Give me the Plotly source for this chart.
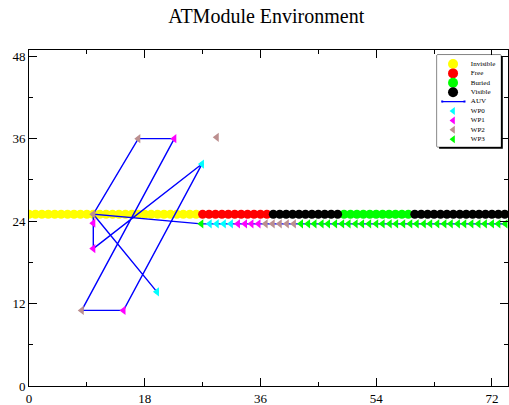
import plotly.graph_objects as go

# Environment cells (circles) at y = 25
invisible_x = [0, 1, 2, 3, 4, 5, 6, 7, 8, 9, 10, 11, 12, 13, 14, 15, 16, 17, 18, 19, 20, 21, 22, 23, 24, 25, 26]
free_x = [27, 28, 29, 30, 31, 32, 33, 34, 35, 36, 37]
buried_x = [49, 50, 51, 52, 53, 54, 55, 56, 57, 58, 59]
visible_x = [38, 39, 40, 41, 42, 43, 44, 45, 46, 47, 48,
             60, 61, 62, 63, 64, 65, 66, 67, 68, 69, 70, 71, 72, 73, 74]
cell_y = 25

# AUV trajectory
auv_x = [74, 26.8, 10, 17, 22.6, 8.2, 14.7, 26.9, 10, 10, 19.9]
auv_y = [23.6, 23.6, 25, 36, 36, 11, 11, 32.3, 20, 25, 13.7]

# Waypoints
wp0_x = [26.9, 19.9, 28.1, 29.2, 30.3, 31.4]
wp0_y = [32.3, 13.7, 23.6, 23.6, 23.6, 23.6]
wp1_x = [10, 10, 22.6, 14.7, 32.5, 33.6, 34.6, 35.7]
wp1_y = [23.7, 20, 36, 11, 23.6, 23.6, 23.6, 23.6]
wp2_x = [10, 17, 8.2, 29.2, 36.8, 37.9, 39.0, 40.1, 41.2]
wp2_y = [25, 36, 11, 36.2, 23.6, 23.6, 23.6, 23.6, 23.6]
wp3_x = [26.8, 42.3, 43.4, 44.4, 45.5, 46.5, 47.6, 48.7, 49.7, 50.8, 51.8, 52.9, 54.0,
         55.0, 56.1, 57.1, 58.2, 59.3, 60.3, 61.4, 62.4, 63.5, 64.6, 65.6, 66.7, 67.7,
         68.8, 69.9, 70.9, 72.0, 73.0, 74.1]
wp3_y = [23.6] * len(wp3_x)

x_ticks = [0, 18, 36, 54, 72]
y_ticks = [0, 12, 24, 36, 48]

legend_names = ["Invisible", "Free", "Buried", "Visible", "AUV", "WP0", "WP1", "WP2", "WP3"]
cell_colors = ["#ffff00", "#ff0000", "#00ff00", "#000000"]
wp_colors = ["#00ffff", "#ff00ff", "#bc8f8f", "#00ff00"]
AUV_COLOR = "#0000ff"

SERIF = "Liberation Serif, Times New Roman, serif"

fig = go.Figure()

def cells(name, xs, color):
    fig.add_trace(go.Scatter(x=xs, y=[cell_y] * len(xs), mode="markers", name=name, showlegend=False,
                             marker=dict(symbol="circle", size=9, color=color, line=dict(width=0))))

cells("Invisible", invisible_x, cell_colors[0])
cells("Free", free_x, cell_colors[1])
cells("Buried", buried_x, cell_colors[2])
cells("Visible", visible_x, cell_colors[3])

fig.add_trace(go.Scatter(x=auv_x, y=auv_y, mode="lines+markers", name="AUV", showlegend=False,
                         line=dict(color=AUV_COLOR, width=1.4),
                         marker=dict(symbol="square", size=3, color=AUV_COLOR)))

def wps(name, xs, ys, color):
    fig.add_trace(go.Scatter(x=xs, y=ys, mode="markers", name=name, showlegend=False,
                             marker=dict(symbol="triangle-left", size=8, color=color, line=dict(width=0))))

wps("WP0", wp0_x, wp0_y, wp_colors[0])
wps("WP1", wp1_x, wp1_y, wp_colors[1])
wps("WP2", wp2_x, wp2_y, wp_colors[2])
wps("WP3", wp3_x, wp3_y, wp_colors[3])

# ---- custom legend drawn in an inset axis (row index = legend entry) ----
rows = list(range(len(legend_names)))
fig.add_trace(go.Scatter(x=[0.25] * 4, y=rows[:4], mode="markers", xaxis="x2", yaxis="y2",
                         showlegend=False, hoverinfo="skip",
                         marker=dict(symbol="circle", size=10, color=cell_colors, line=dict(width=0))))
fig.add_trace(go.Scatter(x=[0.08, 0.43], y=[rows[4], rows[4]], mode="lines+markers", xaxis="x2", yaxis="y2",
                         showlegend=False, hoverinfo="skip",
                         line=dict(color=AUV_COLOR, width=1.2),
                         marker=dict(symbol="square", size=2, color=AUV_COLOR)))
fig.add_trace(go.Scatter(x=[0.25] * 4, y=rows[5:], mode="markers", xaxis="x2", yaxis="y2",
                         showlegend=False, hoverinfo="skip",
                         marker=dict(symbol="triangle-left", size=7, color=wp_colors, line=dict(width=0))))
fig.add_trace(go.Scatter(x=[0.53] * len(legend_names), y=rows, mode="text", xaxis="x2", yaxis="y2",
                         text=legend_names, textposition="middle right", showlegend=False, hoverinfo="skip",
                         textfont=dict(family=SERIF, size=7, color="black")))

LX0, LX1, LY0, LY1 = 0.852, 0.985, 0.712, 0.985
sx, sy = 2 / 479, 2 / 336

axis_common = dict(
    showgrid=False, zeroline=False, showline=True, linecolor="black", linewidth=1,
    mirror="ticks", ticks="inside", ticklen=8, tickcolor="black", tickwidth=1,
    tickfont=dict(family=SERIF, size=13, color="black"),
)

fig.update_layout(
    width=509, height=405,
    margin=dict(l=29, r=1, t=50, b=19, autoexpand=False),
    paper_bgcolor="white", plot_bgcolor="white",
    title=dict(text="ATModule Environment", x=0.523, xanchor="center", y=0.96, yanchor="middle",
               font=dict(family=SERIF, size=20, color="black")),
    xaxis=dict(range=[0, 74.5], tickvals=x_ticks, ticktext=[str(v) for v in x_ticks],
               minor=dict(dtick=9, tick0=0, ticks="inside", ticklen=4, tickcolor="black"), **axis_common),
    yaxis=dict(range=[0, 48.9], tickvals=y_ticks, ticktext=[str(v) for v in y_ticks],
               minor=dict(dtick=6, tick0=0, ticks="inside", ticklen=4, tickcolor="black"), **axis_common),
    xaxis2=dict(domain=[LX0, LX1], range=[0, 1], anchor="y2", visible=False, fixedrange=True),
    yaxis2=dict(domain=[LY0, LY1], range=[8.8, -0.95], anchor="x2", visible=False, fixedrange=True),
    showlegend=False,
    shapes=[
        dict(type="rect", xref="paper", yref="paper", x0=LX0 + sx, x1=LX1 + sx, y0=LY0 - sy, y1=LY1 - sy,
             fillcolor="black", line=dict(width=0), layer="below"),
        dict(type="rect", xref="paper", yref="paper", x0=LX0, x1=LX1, y0=LY0, y1=LY1,
             fillcolor="white", line=dict(width=1, color="black"), layer="below"),
    ],
)

fig.write_html(
    "out.html",
    config={"displayModeBar": False},
    post_script="document.body.style.margin='0';document.body.style.overflow='hidden';",
)
